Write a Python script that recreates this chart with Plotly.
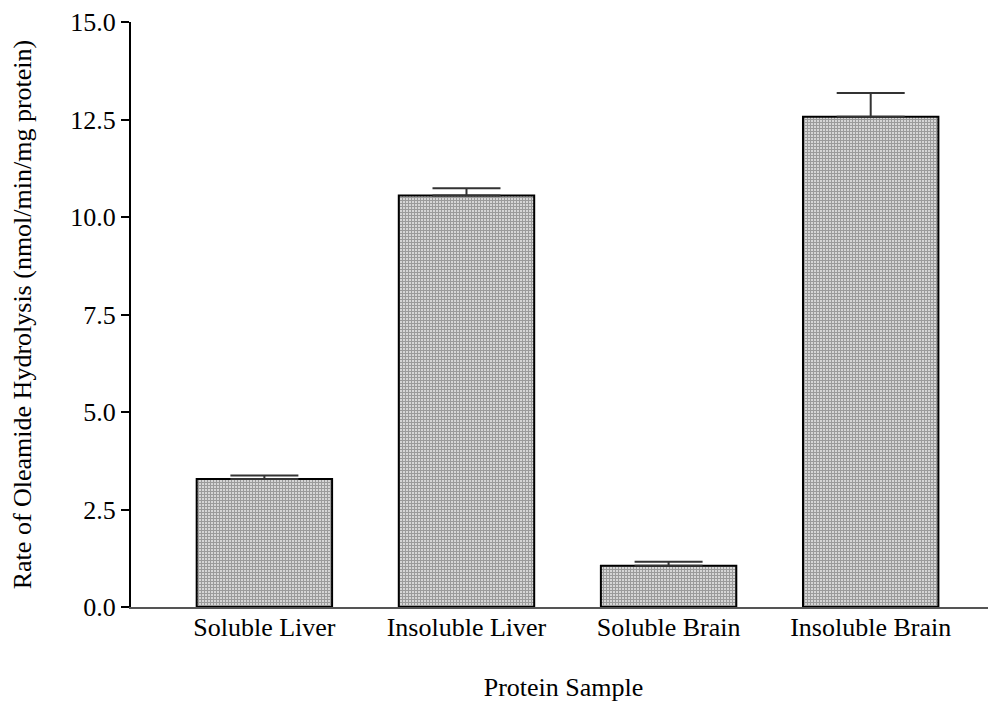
import plotly.graph_objects as go

# amostras e valores
amostras = ['Soluble Liver', 'Insoluble Liver', 'Soluble Brain', 'Insoluble Brain']
taxa = [3.28, 10.55, 1.06, 12.57]
erro = [0.09, 0.19, 0.10, 0.61]
ticks_y = [0.0, 2.5, 5.0, 7.5, 10.0, 12.5, 15.0]

fonte = dict(family='Liberation Serif, Times New Roman, serif', size=26, color='black')

fig = go.Figure(data=[go.Bar(
    x=amostras,
    y=taxa,
    marker=dict(
        color='#a0a0a0',
        line=dict(width=2, color='black'),
        pattern=dict(shape='+', size=3, solidity=0.55, fgcolor='#606060', bgcolor='#d6d6d6'),
    ),
    error_y=dict(type='data', array=erro, arrayminus=[0] * len(erro), symmetric=False,
                 color='#333333', thickness=2, width=34),
    width=0.67,
)])

# a página tem 8px de margem no body, então o gráfico é compensado
fig.update_layout(
    template='plotly_white',
    font=fonte,
    plot_bgcolor='white',
    paper_bgcolor='white',
    showlegend=False,
    width=988,
    height=694,
    margin=dict(l=123, r=0, t=14, b=95),
    xaxis=dict(
        title=dict(text='Protein Sample', font=fonte, standoff=40),
        range=[-0.66, 3.62],
        showgrid=False,
        showline=True, linecolor='#555555', linewidth=2,
        ticks='', zeroline=False,
        ticklabelstandoff=-4,
    ),
    yaxis=dict(
        title=dict(text='Rate of Oleamide Hydrolysis (nmol/min/mg protein)', font=fonte, standoff=34),
        range=[0, 15],
        tickvals=ticks_y,
        tickformat='.1f',
        showgrid=False, zeroline=False,
        showline=True, linecolor='black', linewidth=2,
        ticks='outside', ticklen=8, tickwidth=1.5, tickcolor='black',
    ),
)

fig.write_html('out.html')
